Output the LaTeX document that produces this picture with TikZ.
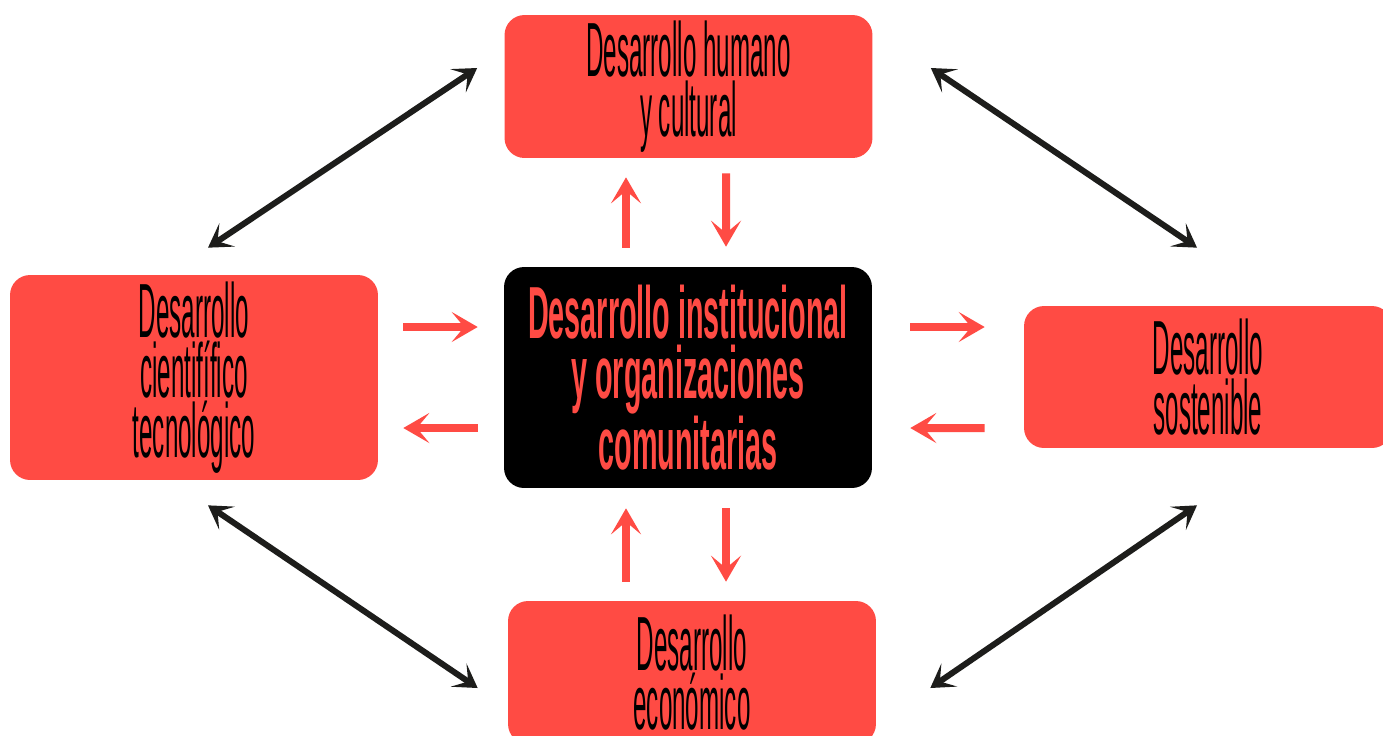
\documentclass[tikz,border=0pt]{standalone}
\usepackage{fontspec}
\usepackage{tikz}
\usetikzlibrary{arrows.meta,calc}
\newfontfamily\slimfont[FakeStretch=0.315]{Liberation Sans}
\newfontfamily\slimboldfont[FakeStretch=0.39]{Liberation Sans}
\definecolor{boxred}{HTML}{FF4B44}
\definecolor{arrowblack}{HTML}{1D1D1B}

\tikzset{
  redbox/.style={fill=boxred, rounded corners=0.4cm, inner sep=0pt, minimum width=7.36cm,
    align=center, text=black, font=\slimfont\fontsize{43.7}{34}\selectfont},
  centerbox/.style={fill=black, rounded corners=0.4cm, inner sep=0pt, minimum width=7.36cm,
    minimum height=4.42cm, align=center, text=boxred, font=\slimboldfont\bfseries\fontsize{42}{34}\selectfont},
  redarrow/.style={draw=boxred, line width=0.16cm, -{Stealth[length=0.52cm,width=0.6cm,inset=0.25cm]}},
  blackarrow/.style={draw=arrowblack, line width=0.12cm,
    {Stealth[length=0.46cm,width=0.56cm,inset=0.23cm]}-{Stealth[length=0.46cm,width=0.56cm,inset=0.23cm]}}
}

\begin{document}
\begin{tikzpicture}[x=0.02cm, y=-0.02cm]
        \useasboundingbox (0,0) rectangle (1383,735);
        \clip (0,0) rectangle (1383,735);
        \fill[white] (0,0) rectangle (1383,735);

        % boxes
        \node[redbox, minimum height=2.86cm] (human) at (688.5,86.5) {Desarrollo humano\\y cultural};
        \node[centerbox] (inst) at (688,377.5) {Desarrollo institucional\\y organizaciones\\comunitarias};
        \node[redbox, minimum height=4.1cm] (scitech) at (194,377.5) {Desarrollo\\cientifífico\\tecnológico};
        \node[redbox, minimum height=2.84cm] (sust) at (1208,377) {Desarrollo\\sostenible};
        \node[redbox, minimum height=2.86cm] (econ) at (692,672.5) {Desarrollo\\económico};

        % red arrows to and from the centre
        \draw[redarrow] ($(inst.north)+(-62,-19)$) -- ($(human.south)+(-62.5,19)$);
        \draw[redarrow] ($(human.south)+(37.5,15)$) -- ($(inst.north)+(38,-20)$);
        \draw[redarrow] ($(econ.north)+(-66,-19)$) -- ($(inst.south)+(-62,20)$);
        \draw[redarrow] ($(inst.south)+(38,20)$) -- ($(econ.north)+(34,-19)$);
        \draw[redarrow] ($(scitech.east)+(25,-50.5)$) -- ($(inst.west)+(-26,-50.5)$);
        \draw[redarrow] ($(inst.west)+(-26,50.5)$) -- ($(scitech.east)+(25,50.5)$);
        \draw[redarrow] ($(inst.east)+(38,-50.5)$) -- ($(sust.west)+(-39,-50)$);
        \draw[redarrow] ($(sust.west)+(-39,51)$) -- ($(inst.east)+(38,50.5)$);

        % black arrows round the outside
        \draw[blackarrow] ($(human.west)+(-27,-18.5)$) -- ($(scitech.north)+(14,-27)$);
        \draw[blackarrow] ($(human.east)+(58,-18.5)$) -- ($(sust.north)+(-11,-58)$);
        \draw[blackarrow] ($(scitech.south)+(14,25)$) -- ($(econ.west)+(-30,15.5)$);
        \draw[blackarrow] ($(sust.south)+(-11,57)$) -- ($(econ.east)+(54,15.5)$);
    \end{tikzpicture}
\end{document}
